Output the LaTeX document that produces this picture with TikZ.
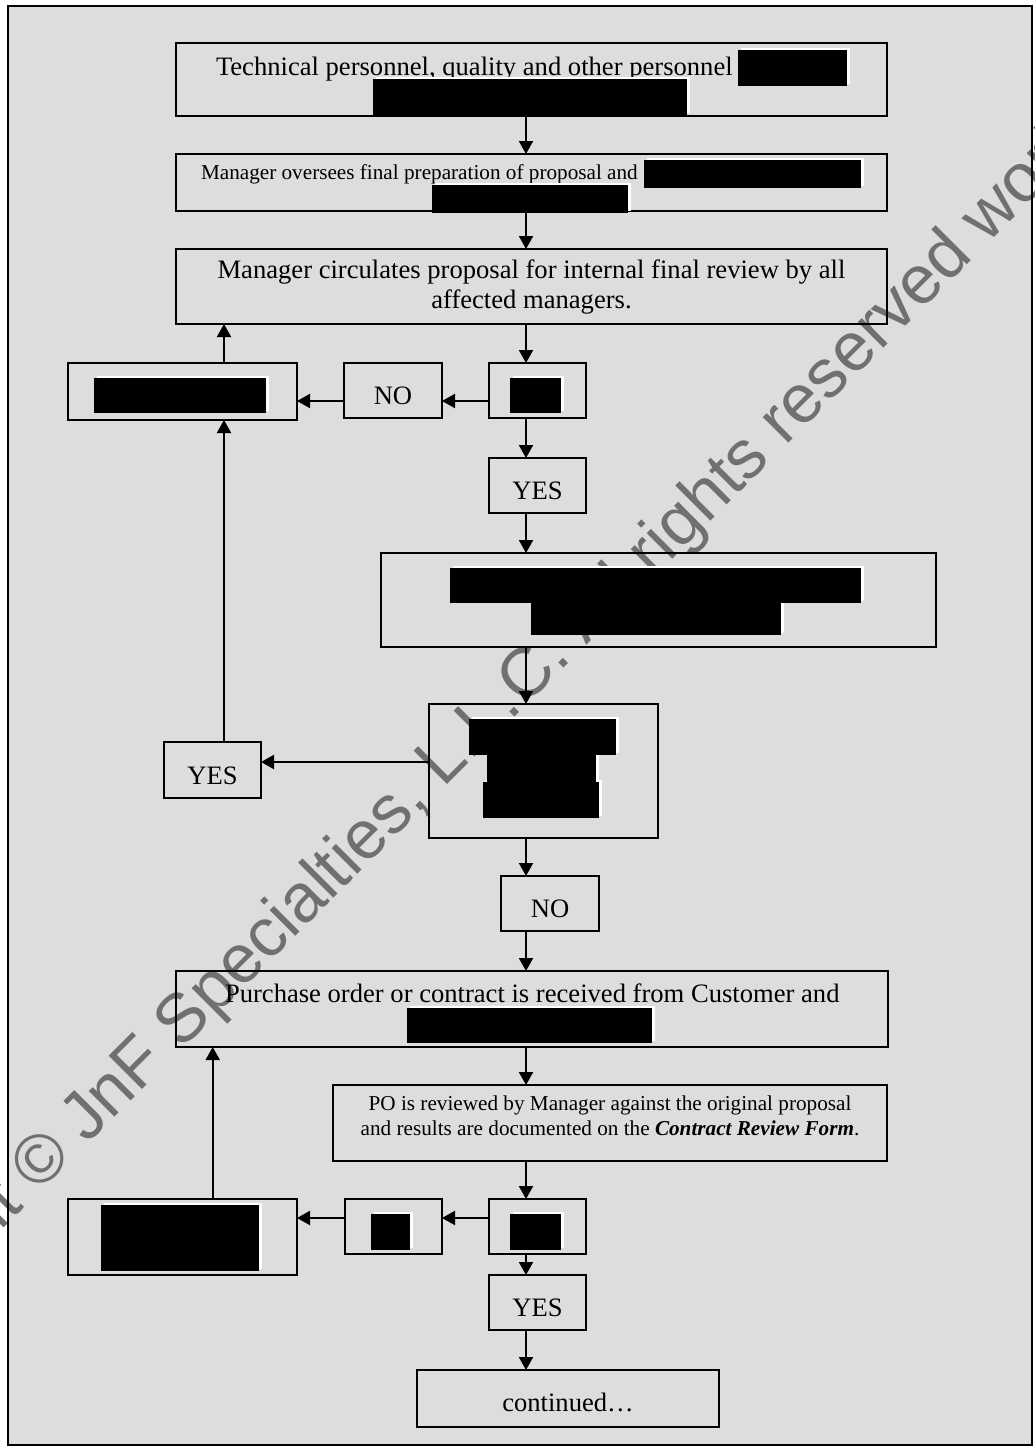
\documentclass[tikz,border=0pt]{standalone}
\usepackage{fontspec}
\setmainfont{Liberation Serif}
\newfontfamily\wmfont{Liberation Sans}
\usetikzlibrary{arrows.meta,fit}
\definecolor{bggray}{RGB}{221,221,221}
\definecolor{wmgray}{RGB}{112,112,112}
\tikzset{
  fbox/.style={draw=black, line width=1pt, inner sep=0pt, outer sep=0pt},
  arr/.style={line width=1pt, -{Triangle[length=6.5pt,width=7pt]}},
  txt/.style={inner sep=0pt, outer sep=0pt, font=\fontsize{13.3pt}{15.5pt}\selectfont},
  stxt/.style={inner sep=0pt, outer sep=0pt, font=\fontsize{10.6pt}{12.5pt}\selectfont},
}
\newcommand{\redactwhite}[4]{\fill[white] (#1+2.5,#2-2.5) rectangle (#3+2.5,#4-2.5);}
\newcommand{\redactblack}[4]{\fill[black] (#1,#2) rectangle (#3,#4);}
\begin{document}
\begin{tikzpicture}[x=0.5pt,y=-0.5pt]
\useasboundingbox (0,0) rectangle (1034,1446);
\fill[white] (0,0) rectangle (1034,1446);
\fill[bggray] (7.5,6) rectangle (1031.5,1445);
% watermark
\begin{scope}
  \clip (0,0) rectangle (1034,1446);
  \node[rotate=45, anchor=base west, inner sep=0pt, text=wmgray,
        font=\wmfont\fontsize{34.3pt}{40pt}\selectfont] (wm) at (-183,1415)
        {Copyright © JnF Specialties, L.L.C. All rights reserved worldwide};
\end{scope}
\draw[line width=1pt] (7.5,6) rectangle (1031.5,1445);

% boxes
\node[fbox, fit={(176,43)(887,116)}] (b1) {};
\node[fbox, fit={(176,154)(887,211)}] (b2) {};
\node[fbox, fit={(176,249)(887,324)}] (b3) {};
\node[fbox, fit={(68,363)(297,420)}] (l1) {};
\node[fbox, fit={(344,363)(442,418)}] (n1) {};
\node[fbox, fit={(489,363)(586,418)}] (d1) {};
\node[fbox, fit={(489,458)(586,513)}] (y1) {};
\node[fbox, fit={(381,553)(936,647)}] (b4) {};
\node[fbox, fit={(429,704)(658,838)}] (b5) {};
\node[fbox, fit={(164,742)(261,798)}] (y2) {};
\node[fbox, fit={(501,876)(599,931)}] (n2) {};
\node[fbox, fit={(176,971)(888,1047)}] (b6) {};
\node[fbox, fit={(333,1085)(887,1161)}] (po) {};
\node[fbox, fit={(68,1199)(297,1275)}] (l2) {};
\node[fbox, fit={(345,1199)(442,1254)}] (m2) {};
\node[fbox, fit={(489,1199)(586,1254)}] (d3) {};
\node[fbox, fit={(489,1275)(586,1330)}] (y3) {};
\node[fbox, fit={(417,1370)(719,1427)}] (cont) {};

% texts
\node[txt, anchor=base west] (t1) at (216,75) {Technical personnel, quality and other personnel};
\node[stxt, anchor=base west] (t2) at (201,179.5) {Manager oversees final preparation of proposal and};
\node[txt, anchor=base] (t3a) at (531.5,278) {Manager circulates proposal for internal final review by all};
\node[txt, anchor=base] (t3b) at (531.5,308) {affected managers.};
\node[txt, anchor=base] (tn1) at (393,404) {NO};
\node[txt, anchor=base] (ty1) at (537.5,499) {YES};
\node[txt, anchor=base] (ty2) at (212.5,784) {YES};
\node[txt, anchor=base] (tn2) at (550,917) {NO};
\node[txt, anchor=base west] (t6) at (225,1002) {Purchase order or contract is received from Customer and};
\node[stxt, anchor=base] (tpa) at (610,1110.7) {PO is reviewed by Manager against the original proposal};
\node[stxt, anchor=base] (tpb) at (610,1135.7) {and results are documented on the \textbf{\textit{Contract Review Form}}.};
\node[txt, anchor=base] (ty3) at (537.5,1316) {YES};
\node[txt, anchor=base] (tc) at (568,1411) {continued…};

% connector guides
\coordinate (col) at (526,0);
\coordinate (c224) at (224,0);
\coordinate (c213) at (212.7,0);
\coordinate (r1) at (0,401);
\coordinate (r2) at (0,762);
\coordinate (r3) at (0,1218);

% connectors
\draw[arr] (b1.south -| col) -- (b2.north -| col);
\draw[arr] (b2.south -| col) -- (b3.north -| col);
\draw[arr] (b3.south -| col) -- (d1.north -| col);
\draw[arr] (d1.west |- r1) -- (n1.east |- r1);
\draw[arr] (n1.west |- r1) -- (l1.east |- r1);
\draw[arr] (l1.north -| c224) -- (b3.south -| c224);
\draw[arr] (d1.south -| col) -- (y1.north -| col);
\draw[arr] (y1.south -| col) -- (b4.north -| col);
\draw[arr] (b4.south -| col) -- (b5.north -| col);
\draw[arr] (b5.west |- r2) -- (y2.east |- r2);
\draw[arr] (y2.north -| c224) -- (l1.south -| c224);
\draw[arr] (b5.south -| col) -- (n2.north -| col);
\draw[arr] (n2.south -| col) -- (b6.north -| col);
\draw[arr] (b6.south -| col) -- (po.north -| col);
\draw[arr] (po.south -| col) -- (d3.north -| col);
\draw[arr] (d3.west |- r3) -- (m2.east |- r3);
\draw[arr] (m2.west |- r3) -- (l2.east |- r3);
\draw[arr] (l2.north -| c213) -- (b6.south -| c213);
\draw[arr] (d3.south -| col) -- (y3.north -| col);
\draw[arr] (y3.south -| col) -- (cont.north -| col);

% redactions
\redactwhite{738}{50}{847}{86}
\redactwhite{373}{79}{687}{115}
\redactwhite{644}{160}{861}{188}
\redactwhite{432}{185}{628}{213}
\redactwhite{94}{378}{266}{413}
\redactwhite{510}{378}{561}{413}
\redactwhite{450}{568}{861}{603}
\redactwhite{531}{603}{781}{635}
\redactwhite{469}{719}{616}{755}
\redactwhite{487}{755}{596}{782}
\redactwhite{483}{782}{599}{818}
\redactwhite{407}{1008}{652}{1043}
\redactwhite{101}{1205}{259}{1271}
\redactwhite{371}{1214}{410}{1250}
\redactwhite{510}{1214}{561}{1250}
\redactblack{738}{50}{847}{86}
\redactblack{373}{79}{687}{115}
\redactblack{644}{160}{861}{188}
\redactblack{432}{185}{628}{213}
\redactblack{94}{378}{266}{413}
\redactblack{510}{378}{561}{413}
\redactblack{450}{568}{861}{603}
\redactblack{531}{603}{781}{635}
\redactblack{469}{719}{616}{755}
\redactblack{487}{755}{596}{782}
\redactblack{483}{782}{599}{818}
\redactblack{407}{1008}{652}{1043}
\redactblack{101}{1205}{259}{1271}
\redactblack{371}{1214}{410}{1250}
\redactblack{510}{1214}{561}{1250}
\end{tikzpicture}
\end{document}
